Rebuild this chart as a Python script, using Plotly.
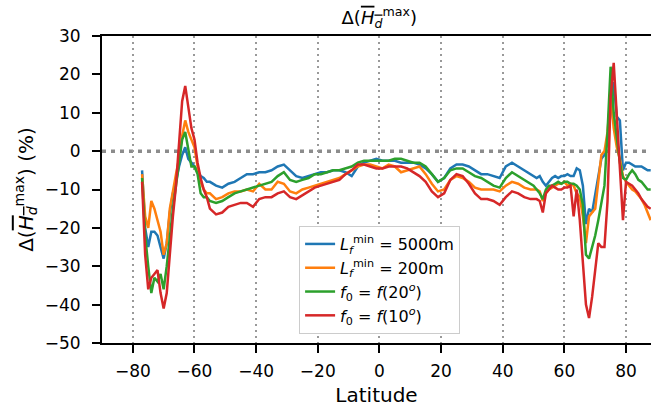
import plotly.graph_objects as go

# Latitude grid (degrees)
lat = list(range(-77, -54)) + list(range(-53, 50, 2)) + list(range(50, 89))

# Delta(H_d^max) (%) per experiment
blue_5000m = [
    -5, -20, -25, -21, -21, -22, -25, -28, -24, -16, -11, -8, -4, -1, 1, -2, -3, -4, -5, -6.5, -7, -8, -8,
    -9, -9.5, -8.5, -8, -7, -6, -6, -5.5, -5.5, -5, -4, -3.5, -5, -6.5, -7, -6.5, -6, -5.5, -5.5, -5,
    -5, -5.5, -6.5, -4, -3, -2.5, -2, -2.5, -2.5, -2.5, -3, -3, -3, -3.5, -4.5, -6, -8, -7, -4.5, -3.5,
    -3.5, -4, -5, -6, -6, -6.5, -7, -4, -3, -4, -5, -6,
    -6.5, -7, -6.5, -8, -9, -8, -7, -6.5, -7, -6.5, -6.5, -6, -6.5, -6.5, -4.5, -5, -9, -19, -15, -16,
    -11, -6, -2, -1, 3, 10, 18, 9, 8, -5, -3, -3, -3.5, -4, -4, -4, -4.5, -5, -5,
]
orange_200m = [
    -6, -17, -20, -13, -15, -18, -21, -27, -24, -15, -10, -6, -2, 4, 8, 5, 3, 1, -4, -8, -10, -11, -11,
    -12.5, -12, -11, -10.5, -10.5, -10, -10.5, -8.5, -10, -10, -8, -8.5, -10.5, -11, -10, -9.5, -9, -8.5,
    -8, -7.5, -7, -6, -5, -4, -3.5, -3.5, -4, -4.5, -3.5, -4, -5.5, -5, -4.5, -4, -6, -8.5, -10.5, -10,
    -7.5, -6.5, -7, -8, -9.5, -10, -10, -10, -10.5, -9, -8, -8.5, -9.5, -10,
    -10, -10, -10.5, -13, -11, -10, -9.5, -9, -8.5, -8.5, -8, -9, -8.5, -9, -11, -12, -17, -24, -17, -16,
    -15, -8, -1, 0, 5, 15, 6, 1, -2, -6.5, -8, -9, -10, -10.5, -11.5, -12.5, -14, -16, -18,
]
green_f20 = [
    -7, -22, -30, -37, -33, -34, -32, -36, -30, -22, -15, -9, -3, 3, 5, 0, -4, -4, -6, -11, -12, -12, -13,
    -13.5, -13, -12, -11, -10.5, -10, -9.5, -9, -8.5, -8, -6.5, -5.5, -7.5, -8, -7.5, -7, -6, -6, -5.5,
    -5, -5, -4.5, -4, -3, -2.5, -2.5, -2.5, -2.5, -2.5, -2, -2, -2.5, -3, -3, -4, -6, -8, -7, -5, -4.5,
    -4.5, -5.5, -6.5, -7, -8, -9, -9.5, -7, -5.5, -6.5, -7.5, -8.5,
    -9, -10, -11, -12.5, -10, -9, -9, -8.5, -8, -8.5, -8, -8, -8.5, -8.5, -9, -10, -14, -27, -28, -25,
    -22, -18, -13, -9, 5, 22, 10, 3, -3, -7, -7.5, -6, -5, -6, -7.5, -8, -9, -10, -10,
]
red_f10 = [
    -8, -27, -36, -33, -32, -31, -37, -41, -37, -26, -17, -9, 2, 13, 17, 11, 6, 3, -3, -7, -10, -12, -15,
    -16.5, -16, -14.5, -14, -13.5, -13.5, -14.5, -12.5, -12, -12, -11, -10.5, -12, -12.5, -11.5, -10.5,
    -9.5, -9, -8.5, -8, -7.5, -6, -5, -3.5, -3.5, -4, -4.5, -4.5, -4, -4, -4, -4.5, -5.5, -6.5, -8, -10.5,
    -12, -11, -7.5, -6, -6.5, -8.5, -11, -12.5, -12.5, -13, -14, -12, -10.5, -11, -12, -12.5,
    -12.5, -12.5, -13, -16, -11, -10, -9, -9.5, -10, -10, -9.5, -9.5, -9, -17, -10, -18, -30, -40, -43.5,
    -38, -31, -24, -25, -25, -13, 14, 23, 10, -6, -18, -8, -8.5, -9, -10, -11, -12.5, -13.5, -14.5, -15,
]

series_names = [
    "<i>L</i><sub><i>f</i></sub><sup>min</sup> = 5000m",
    "<i>L</i><sub><i>f</i></sub><sup>min</sup> = 200m",
    "<i>f</i><sub>0</sub> = <i>f</i>(20<sup><i>o</i></sup>)",
    "<i>f</i><sub>0</sub> = <i>f</i>(10<sup><i>o</i></sup>)",
]
series_values = [blue_5000m, orange_200m, green_f20, red_f10]
series_colors = ["#1f77b4", "#ff7f0e", "#2ca02c", "#d62728"]

x_ticks = [-80, -60, -40, -20, 0, 20, 40, 60, 80]
y_ticks = [-50, -40, -30, -20, -10, 0, 10, 20, 30]

FONT = "DejaVu Sans"

fig = go.Figure()
for name, vals, col in zip(series_names, series_values, series_colors):
    fig.add_trace(go.Scatter(x=lat, y=vals, mode="lines", name=name,
                             line=dict(color=col, width=2.5)))

fig.add_shape(type="line", xref="paper", x0=0, x1=1, yref="y", y0=0, y1=0,
              line=dict(color="#8c8c8c", width=3.5, dash="4px,5px"), layer="below")

hd = 'Δ(<span style="text-decoration:overline"><i>H</i><sub><i>d</i></sub></span><sup>max</sup>)'

fig.update_layout(
    width=651, height=415,
    margin=dict(l=102, r=0, t=36, b=72),
    paper_bgcolor="white", plot_bgcolor="white",
    font=dict(family=FONT, size=17, color="black"),
    title=dict(text=hd, x=0.505, xref="paper", xanchor="center", y=0.958, yanchor="middle",
               font=dict(size=18)),
    showlegend=True,
    legend=dict(x=0.359, y=0.381, xanchor="left", yanchor="top",
                bgcolor="white", bordercolor="#cccccc", borderwidth=1,
                font=dict(size=16), itemwidth=30),
    xaxis=dict(range=[-90, 88.1], tickvals=x_ticks, ticks="outside", ticklen=8, tickwidth=1.5,
               tickcolor="black", showline=True, linecolor="black", linewidth=1.8, mirror=True,
               showgrid=True, gridcolor="#999999", gridwidth=1.5, griddash="2px,4px",
               zeroline=False, title=dict(text="Latitude", standoff=8), ticklabelstandoff=4),
    yaxis=dict(range=[-50, 30], tickvals=y_ticks, ticks="outside", ticklen=8, tickwidth=1.5,
               tickcolor="black", showline=True, linecolor="black", linewidth=1.8,
               showgrid=False, zeroline=False, ticklabelstandoff=8,
               title=dict(text=hd + " (%)", standoff=6)),
)

fig.write_html("out.html")
